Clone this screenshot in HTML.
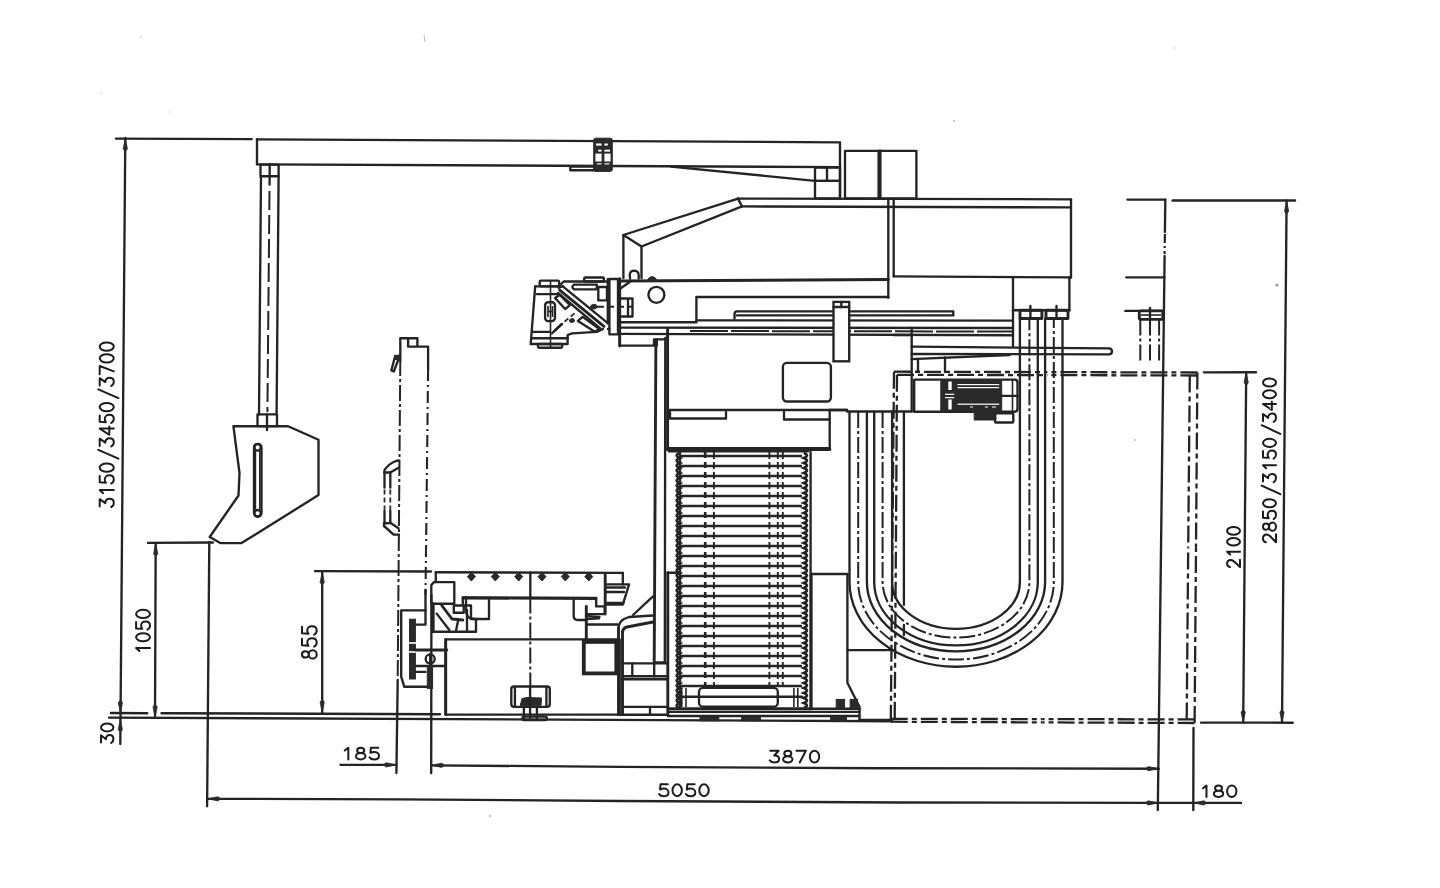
<!DOCTYPE html>
<html><head><meta charset="utf-8"><style>
html,body{margin:0;padding:0;background:#fff;}
svg{display:block;}
.s{stroke:#242424;stroke-width:2.35;fill:none;stroke-linecap:round;stroke-linejoin:round;}
.w{stroke:#242424;stroke-width:2.9;fill:none;stroke-linecap:round;stroke-linejoin:round;}
.h{stroke:#242424;stroke-width:1.6;fill:none;}
.dd{stroke:#242424;stroke-width:2;fill:none;stroke-dasharray:16 3 3 3;}
.d{stroke:#242424;stroke-width:1.9;fill:none;stroke-dasharray:7 3;}
.f{fill:#2a2a2a;stroke:#2a2a2a;stroke-width:1;}
.a{fill:#2a2a2a;stroke:#2a2a2a;stroke-width:0.8;stroke-linejoin:round;}
.t{font-family:"Liberation Sans",sans-serif;font-size:100px;fill:#1e1e1e;stroke:#1e1e1e;stroke-width:0.35px;vector-effect:non-scaling-stroke;}
.g{fill:none;stroke:#1c1c1c;stroke-width:2px;stroke-linecap:round;stroke-linejoin:round;}
.g path{vector-effect:non-scaling-stroke;}
.sw{stroke:#242424;stroke-width:2.35;fill:#fff;}
.w4{stroke:#242424;stroke-width:3.8;fill:none;}
.wh{stroke:#fff;stroke-width:1.6;}
.p{stroke:#262626;stroke-width:2.4;fill:none;}
.z{stroke:#222;stroke-width:2.7;fill:none;}
.dk{stroke:#262626;stroke-width:2.6;fill:none;stroke-dasharray:6 4;}
.d2{stroke:#242424;stroke-width:2;fill:none;stroke-dasharray:19 5;}
.d3{stroke:#242424;stroke-width:2.1;fill:none;stroke-dasharray:12 4 2 4;}
.d5{stroke:#242424;stroke-width:2.2;fill:none;stroke-dasharray:9 3 2 3;}
.d6{stroke:#242424;stroke-width:2;fill:none;stroke-dasharray:38 3;}
.en{stroke:#242424;stroke-width:2.3;fill:none;stroke-dasharray:17 4 5 4;}
.d4{stroke:#2a2a2a;stroke-width:1.8;fill:none;stroke-dasharray:5 3;}
</style></head><body>
<svg width="1440" height="888" viewBox="0 0 1440 888">
<rect width="1440" height="888" fill="#fff"/>
<line x1="116" y1="138.6" x2="251.7" y2="139.1" class="s"/>
<line x1="125.3" y1="138" x2="120.3" y2="744" class="s"/>
<polygon points="125.3,138.5 123.2,148.9 125.3,151.5 127.4,148.9" class="a"/>
<polygon points="120.4,713 118.3,702.6 120.4,700 122.5,702.6" class="a"/>
<polygon points="120.3,719.3 118.2,729.7 120.3,732.3 122.4,729.7" class="a"/>
<g transform="matrix(0,-0.11750,0.14100,0,99.70,507.00)" class="g"><path transform="translate(0,0) scale(0.875,1)" d="M5,0 L76,0 L38,40 C64,38 80,52 80,70 C80,88 64,100 40,100 C22,100 8,93 0,82"/><path transform="translate(100,0) scale(0.875,1)" d="M20,24 L50,0 L50,100"/><path transform="translate(200,0) scale(0.875,1)" d="M74,0 L12,0 L8,44 C16,39 28,36 40,36 C64,36 80,50 80,68 C80,88 64,100 40,100 C22,100 8,93 0,82"/><path transform="translate(300,0) scale(0.875,1)" d="M40,0 C62,0 80,22 80,50 C80,78 62,100 40,100 C18,100 0,78 0,50 C0,22 18,0 40,0 Z"/><path transform="translate(412,0) scale(1,1)" d="M0,133 L74,-10"/><path transform="translate(515,0) scale(0.875,1)" d="M5,0 L76,0 L38,40 C64,38 80,52 80,70 C80,88 64,100 40,100 C22,100 8,93 0,82"/><path transform="translate(615,0) scale(0.875,1)" d="M60,100 L60,0 L0,68 L80,68"/><path transform="translate(715,0) scale(0.875,1)" d="M74,0 L12,0 L8,44 C16,39 28,36 40,36 C64,36 80,50 80,68 C80,88 64,100 40,100 C22,100 8,93 0,82"/><path transform="translate(815,0) scale(0.875,1)" d="M40,0 C62,0 80,22 80,50 C80,78 62,100 40,100 C18,100 0,78 0,50 C0,22 18,0 40,0 Z"/><path transform="translate(927,0) scale(1,1)" d="M0,133 L74,-10"/><path transform="translate(1030,0) scale(0.875,1)" d="M5,0 L76,0 L38,40 C64,38 80,52 80,70 C80,88 64,100 40,100 C22,100 8,93 0,82"/><path transform="translate(1130,0) scale(0.875,1)" d="M0,0 L80,0 L28,100"/><path transform="translate(1230,0) scale(0.875,1)" d="M40,0 C62,0 80,22 80,50 C80,78 62,100 40,100 C18,100 0,78 0,50 C0,22 18,0 40,0 Z"/><path transform="translate(1330,0) scale(0.875,1)" d="M40,0 C62,0 80,22 80,50 C80,78 62,100 40,100 C18,100 0,78 0,50 C0,22 18,0 40,0 Z"/></g>
<g transform="matrix(0,-0.11529,0.12400,0,101.00,743.00)" class="g"><path transform="translate(0,0) scale(0.875,1)" d="M5,0 L76,0 L38,40 C64,38 80,52 80,70 C80,88 64,100 40,100 C22,100 8,93 0,82"/><path transform="translate(100,0) scale(0.875,1)" d="M40,0 C62,0 80,22 80,50 C80,78 62,100 40,100 C18,100 0,78 0,50 C0,22 18,0 40,0 Z"/></g>
<line x1="111" y1="713" x2="147.3" y2="713.2" class="s"/>
<line x1="161.5" y1="713.2" x2="440" y2="714.2" class="s"/>
<line x1="109" y1="717.6" x2="892" y2="721.2" class="s"/>
<line x1="148" y1="542.9" x2="213" y2="542.5" class="s"/>
<line x1="155.7" y1="543" x2="155" y2="717" class="s"/>
<polygon points="155.7,543.5 153.6,553.9 155.7,556.5 157.8,553.9" class="a"/>
<polygon points="155.1,717.2 153,706.8 155.1,704.2 157.2,706.8" class="a"/>
<line x1="209.3" y1="542" x2="207.1" y2="806.3" class="s"/>
<g transform="matrix(0,-0.11688,0.13900,0,136.10,653.05)" class="g"><path transform="translate(0,0) scale(0.875,1)" d="M20,24 L50,0 L50,100"/><path transform="translate(100,0) scale(0.875,1)" d="M40,0 C62,0 80,22 80,50 C80,78 62,100 40,100 C18,100 0,78 0,50 C0,22 18,0 40,0 Z"/><path transform="translate(200,0) scale(0.875,1)" d="M74,0 L12,0 L8,44 C16,39 28,36 40,36 C64,36 80,50 80,68 C80,88 64,100 40,100 C22,100 8,93 0,82"/><path transform="translate(300,0) scale(0.875,1)" d="M40,0 C62,0 80,22 80,50 C80,78 62,100 40,100 C18,100 0,78 0,50 C0,22 18,0 40,0 Z"/></g>
<line x1="315" y1="571.1" x2="431" y2="571.5" class="s"/>
<line x1="322.2" y1="571.5" x2="322.2" y2="712.5" class="s"/>
<polygon points="322.2,572 320.1,582.4 322.2,585 324.3,582.4" class="a"/>
<polygon points="322.2,712.5 320.1,702.1 322.2,699.5 324.3,702.1" class="a"/>
<g transform="matrix(0,-0.12000,0.14700,0,302.00,658.60)" class="g"><path transform="translate(0,0) scale(0.875,1)" d="M40,0 C58,0 70,10 70,23 C70,36 58,46 40,46 C22,46 10,36 10,23 C10,10 22,0 40,0 Z M40,46 C62,46 80,57 80,73 C80,89 62,100 40,100 C18,100 0,89 0,73 C0,57 18,46 40,46 Z"/><path transform="translate(100,0) scale(0.875,1)" d="M74,0 L12,0 L8,44 C16,39 28,36 40,36 C64,36 80,50 80,68 C80,88 64,100 40,100 C22,100 8,93 0,82"/><path transform="translate(200,0) scale(0.875,1)" d="M74,0 L12,0 L8,44 C16,39 28,36 40,36 C64,36 80,50 80,68 C80,88 64,100 40,100 C22,100 8,93 0,82"/></g>
<line x1="397.7" y1="680" x2="396.4" y2="773" class="s"/>
<line x1="431.4" y1="595" x2="431.2" y2="773" class="s"/>
<line x1="340.5" y1="764.8" x2="396.4" y2="764.9" class="s"/>
<polygon points="396.4,764.9 386,762.8 383.4,764.9 386,767" class="a"/>
<g transform="matrix(0.13564,0,0,0.11700,342.38,747.70)" class="g"><path transform="translate(0,0) scale(0.875,1)" d="M20,24 L50,0 L50,100"/><path transform="translate(100,0) scale(0.875,1)" d="M40,0 C58,0 70,10 70,23 C70,36 58,46 40,46 C22,46 10,36 10,23 C10,10 22,0 40,0 Z M40,46 C62,46 80,57 80,73 C80,89 62,100 40,100 C18,100 0,89 0,73 C0,57 18,46 40,46 Z"/><path transform="translate(200,0) scale(0.875,1)" d="M74,0 L12,0 L8,44 C16,39 28,36 40,36 C64,36 80,50 80,68 C80,88 64,100 40,100 C22,100 8,93 0,82"/></g>
<polyline points="431.4,765.3 620,766.9 880,768.2 1158.9,768.7" class="s"/>
<polygon points="431.4,765.3 441.8,763.2 444.4,765.3 441.8,767.4" class="a"/>
<polygon points="1158.6,768.7 1148.2,766.6 1145.6,768.7 1148.2,770.8" class="a"/>
<g transform="matrix(0.13365,0,0,0.11700,769.75,750.80)" class="g"><path transform="translate(0,0) scale(0.875,1)" d="M5,0 L76,0 L38,40 C64,38 80,52 80,70 C80,88 64,100 40,100 C22,100 8,93 0,82"/><path transform="translate(100,0) scale(0.875,1)" d="M40,0 C58,0 70,10 70,23 C70,36 58,46 40,46 C22,46 10,36 10,23 C10,10 22,0 40,0 Z M40,46 C62,46 80,57 80,73 C80,89 62,100 40,100 C18,100 0,89 0,73 C0,57 18,46 40,46 Z"/><path transform="translate(200,0) scale(0.875,1)" d="M0,0 L80,0 L28,100"/><path transform="translate(300,0) scale(0.875,1)" d="M40,0 C62,0 80,22 80,50 C80,78 62,100 40,100 C18,100 0,78 0,50 C0,22 18,0 40,0 Z"/></g>
<polyline points="207.4,798.8 400,799.3 620,801 900,802.5 1158.7,802.9" class="s"/>
<polygon points="207.6,798.8 218,796.7 220.6,798.8 218,800.9" class="a"/>
<polygon points="1158.5,802.9 1148.1,800.8 1145.5,802.9 1148.1,805" class="a"/>
<g transform="matrix(0.13405,0,0,0.11900,659.10,784.30)" class="g"><path transform="translate(0,0) scale(0.875,1)" d="M74,0 L12,0 L8,44 C16,39 28,36 40,36 C64,36 80,50 80,68 C80,88 64,100 40,100 C22,100 8,93 0,82"/><path transform="translate(100,0) scale(0.875,1)" d="M40,0 C62,0 80,22 80,50 C80,78 62,100 40,100 C18,100 0,78 0,50 C0,22 18,0 40,0 Z"/><path transform="translate(200,0) scale(0.875,1)" d="M74,0 L12,0 L8,44 C16,39 28,36 40,36 C64,36 80,50 80,68 C80,88 64,100 40,100 C22,100 8,93 0,82"/><path transform="translate(300,0) scale(0.875,1)" d="M40,0 C62,0 80,22 80,50 C80,78 62,100 40,100 C18,100 0,78 0,50 C0,22 18,0 40,0 Z"/></g>
<line x1="1193.5" y1="728" x2="1193.3" y2="810" class="s"/>
<line x1="1158.5" y1="802.8" x2="1241" y2="802.9" class="s"/>
<polygon points="1193.6,802.9 1204,800.8 1206.6,802.9 1204,805" class="a"/>
<g transform="matrix(0.13228,0,0,0.11300,1200.69,785.60)" class="g"><path transform="translate(0,0) scale(0.875,1)" d="M20,24 L50,0 L50,100"/><path transform="translate(100,0) scale(0.875,1)" d="M40,0 C58,0 70,10 70,23 C70,36 58,46 40,46 C22,46 10,36 10,23 C10,10 22,0 40,0 Z M40,46 C62,46 80,57 80,73 C80,89 62,100 40,100 C18,100 0,89 0,73 C0,57 18,46 40,46 Z"/><path transform="translate(200,0) scale(0.875,1)" d="M40,0 C62,0 80,22 80,50 C80,78 62,100 40,100 C18,100 0,78 0,50 C0,22 18,0 40,0 Z"/></g>
<line x1="1172.5" y1="200.5" x2="1295" y2="200.5" class="s"/>
<line x1="1286.6" y1="200.5" x2="1282" y2="722.5" class="s"/>
<polygon points="1286.6,201 1284.5,211.4 1286.6,214 1288.7,211.4" class="a"/>
<polygon points="1282,722.5 1279.9,712.1 1282,709.5 1284.1,712.1" class="a"/>
<line x1="1203.9" y1="372.3" x2="1256" y2="372.2" class="s"/>
<line x1="1246.2" y1="372" x2="1243.2" y2="722.5" class="s"/>
<polygon points="1246.2,372.3 1244.1,382.7 1246.2,385.3 1248.3,382.7" class="a"/>
<polygon points="1243.2,722.5 1241.1,712.1 1243.2,709.5 1245.3,712.1" class="a"/>
<line x1="1201" y1="722.6" x2="1292.7" y2="722.7" class="s"/>
<g transform="matrix(0,-0.11721,0.13000,0,1263.00,542.50)" class="g"><path transform="translate(0,0) scale(0.875,1)" d="M3,22 C6,8 20,0 40,0 C62,0 78,12 78,29 C78,46 62,56 42,70 L2,100 L80,100"/><path transform="translate(100,0) scale(0.875,1)" d="M40,0 C58,0 70,10 70,23 C70,36 58,46 40,46 C22,46 10,36 10,23 C10,10 22,0 40,0 Z M40,46 C62,46 80,57 80,73 C80,89 62,100 40,100 C18,100 0,89 0,73 C0,57 18,46 40,46 Z"/><path transform="translate(200,0) scale(0.875,1)" d="M74,0 L12,0 L8,44 C16,39 28,36 40,36 C64,36 80,50 80,68 C80,88 64,100 40,100 C22,100 8,93 0,82"/><path transform="translate(300,0) scale(0.875,1)" d="M40,0 C62,0 80,22 80,50 C80,78 62,100 40,100 C18,100 0,78 0,50 C0,22 18,0 40,0 Z"/><path transform="translate(412,0) scale(1,1)" d="M0,133 L74,-10"/><path transform="translate(515,0) scale(0.875,1)" d="M5,0 L76,0 L38,40 C64,38 80,52 80,70 C80,88 64,100 40,100 C22,100 8,93 0,82"/><path transform="translate(615,0) scale(0.875,1)" d="M20,24 L50,0 L50,100"/><path transform="translate(715,0) scale(0.875,1)" d="M74,0 L12,0 L8,44 C16,39 28,36 40,36 C64,36 80,50 80,68 C80,88 64,100 40,100 C22,100 8,93 0,82"/><path transform="translate(815,0) scale(0.875,1)" d="M40,0 C62,0 80,22 80,50 C80,78 62,100 40,100 C18,100 0,78 0,50 C0,22 18,0 40,0 Z"/><path transform="translate(927,0) scale(1,1)" d="M0,133 L74,-10"/><path transform="translate(1030,0) scale(0.875,1)" d="M5,0 L76,0 L38,40 C64,38 80,52 80,70 C80,88 64,100 40,100 C22,100 8,93 0,82"/><path transform="translate(1130,0) scale(0.875,1)" d="M60,100 L60,0 L0,68 L80,68"/><path transform="translate(1230,0) scale(0.875,1)" d="M40,0 C62,0 80,22 80,50 C80,78 62,100 40,100 C18,100 0,78 0,50 C0,22 18,0 40,0 Z"/><path transform="translate(1330,0) scale(0.875,1)" d="M40,0 C62,0 80,22 80,50 C80,78 62,100 40,100 C18,100 0,78 0,50 C0,22 18,0 40,0 Z"/></g>
<g transform="matrix(0,-0.10865,0.12900,0,1227.10,567.30)" class="g"><path transform="translate(0,0) scale(0.875,1)" d="M3,22 C6,8 20,0 40,0 C62,0 78,12 78,29 C78,46 62,56 42,70 L2,100 L80,100"/><path transform="translate(100,0) scale(0.875,1)" d="M20,24 L50,0 L50,100"/><path transform="translate(200,0) scale(0.875,1)" d="M40,0 C62,0 80,22 80,50 C80,78 62,100 40,100 C18,100 0,78 0,50 C0,22 18,0 40,0 Z"/><path transform="translate(300,0) scale(0.875,1)" d="M40,0 C62,0 80,22 80,50 C80,78 62,100 40,100 C18,100 0,78 0,50 C0,22 18,0 40,0 Z"/></g>
<polyline points="257,139.3 840,142.3 840,198.5" class="s"/>
<line x1="257" y1="139.3" x2="257" y2="164.2" class="s"/>
<polyline points="257,164.3 840,167.1" class="s"/>
<line x1="671" y1="166.6" x2="815" y2="180.8" class="s"/>
<rect x="815" y="167.5" width="25" height="13.3" class="s"/>
<line x1="827" y1="167.5" x2="827" y2="180.8" class="s"/>
<rect x="815" y="180.8" width="25" height="17.7" class="s"/>
<rect x="593.7" y="138.2" width="18.6" height="33.2" rx="2" class="f"/>
<rect x="596" y="143.5" width="5.6" height="2.1" fill="#fff"/>
<rect x="604.4" y="143.5" width="3.4" height="2.1" fill="#fff"/>
<rect x="598.2" y="149.7" width="3.4" height="1.9" fill="#fff"/>
<rect x="604.4" y="149.7" width="5.6" height="1.9" fill="#fff"/>
<rect x="595.4" y="153.6" width="6.2" height="7.9" fill="#fff"/>
<rect x="604.4" y="153.6" width="6.2" height="7.9" fill="#fff"/>
<rect x="597" y="163.3" width="4.6" height="1.1" fill="#fff"/>
<rect x="604.4" y="163.3" width="5.1" height="1.1" fill="#fff"/>
<path d="M593.7,166.6 L570.3,166.6 L570.3,170.2 L596.5,170.2" class="s"/>
<rect x="845" y="150.8" width="71.4" height="47.7" class="s"/>
<line x1="880.1" y1="151" x2="880.1" y2="198.5" class="w"/>
<line x1="878.6" y1="151" x2="878.6" y2="198.5" class="s"/>
<rect x="260.5" y="164.6" width="18.1" height="11.6" class="s"/>
<line x1="269.7" y1="164.6" x2="269.6" y2="184.5" class="s"/>
<line x1="261" y1="176.2" x2="259" y2="414.4" class="s"/>
<line x1="278.6" y1="176.2" x2="276.6" y2="414.4" class="s"/>
<line x1="269.5" y1="191" x2="267.4" y2="412" class="d2"/>
<rect x="257.5" y="414.4" width="19.5" height="11.8" class="s"/>
<line x1="267" y1="414.4" x2="267" y2="430" class="s"/>
<polygon points="233.4,426.2 288.1,426.2 318.5,439.8 318.5,495.1 241.5,543.1 220.3,543.1 209.7,537 238.5,495.5 239.5,473 233.4,426.2" class="s"/>
<rect x="254" y="443.8" width="7.5" height="72.9" rx="3.7" class="s"/>
<circle cx="257.6" cy="447.4" r="3.2" class="s"/>
<circle cx="257.6" cy="513.2" r="3.2" class="s"/>
<line x1="255.4" y1="451" x2="255.4" y2="509.5" class="h"/>
<line x1="259.8" y1="451" x2="259.8" y2="509.5" class="h"/>
<path d="M400.3,360 L400.3,338.2 L417.4,338.2 L417.4,346.6 M408.1,338.2 L408.1,346.6 L428.1,346.6 L428.1,369" class="s"/>
<line x1="400.3" y1="360" x2="397.7" y2="678" class="dd"/>
<line x1="428.1" y1="369" x2="425.5" y2="595" class="d3"/>
<path d="M391.3,370.5 L395.2,356 L399.8,355.8 L393.8,371.5 Z" class="s"/>
<path d="M395.2,356 L399.8,355.8 L399.6,359.5 L394.5,359.5 Z" class="f"/>
<path d="M384.5,472.5 L384.5,470 Q389,463.5 396,461 L399,460.5" class="s"/>
<path d="M384.5,472.5 L390.3,472.5 L399,467.5" class="s"/>
<line x1="384.5" y1="472.5" x2="384.5" y2="487.5" class="s"/>
<line x1="384.5" y1="489.5" x2="384.5" y2="510" class="d4"/>
<line x1="384.5" y1="511" x2="384.5" y2="523" class="s"/>
<line x1="390.3" y1="472.5" x2="390.3" y2="487.5" class="s"/>
<line x1="390.3" y1="489.5" x2="390.3" y2="510" class="d4"/>
<line x1="390.3" y1="511" x2="390.3" y2="523" class="s"/>
<path d="M384,523.5 L384,526 L393.6,534.6 L399,534.6" class="s"/>
<path d="M384,523.5 L390.3,522.8 L398.5,528.2" class="s"/>
<line x1="435.8" y1="572.2" x2="622.8" y2="572.9" class="s"/>
<line x1="435.8" y1="572.2" x2="435.8" y2="582.1" class="s"/>
<line x1="622.8" y1="572.9" x2="622.8" y2="584.4" class="s"/>
<path d="M431.3,585 L434,582.1 L454.3,582.1 L454.3,603.7 L431.3,603.7 Z" class="s"/>
<path d="M471.4,572.5 L475.4,576.6 L471.4,581 L467.4,576.6 Z" class="f"/>
<path d="M495.3,572.5 L499.3,576.6 L495.3,581 L491.3,576.6 Z" class="f"/>
<path d="M518.7,572.5 L522.7,576.6 L518.7,581 L514.7,576.6 Z" class="f"/>
<path d="M542,572.5 L546,576.6 L542,581 L538,576.6 Z" class="f"/>
<path d="M565.3,572.5 L569.3,576.6 L565.3,581 L561.3,576.6 Z" class="f"/>
<path d="M588.8,572.5 L592.8,576.6 L588.8,581 L584.8,576.6 Z" class="f"/>
<line x1="530.3" y1="572.6" x2="530.3" y2="597.5" class="s"/>
<path d="M462.8,605 L462.8,597.4 L596.2,597.9 L596.2,606.4 L604.8,606.4 L604.8,614.1 L587.7,614.1" class="s"/>
<line x1="463" y1="598" x2="596" y2="598.5" class="w"/>
<path d="M466,597.4 L466,610 Q466,619 474,619 L489,619 L489,600" class="s"/>
<path d="M573.7,600.1 L573.7,616 Q573.7,620 578,620 L586.3,620" class="s"/>
<line x1="586.3" y1="606.4" x2="586.3" y2="639.8" class="w"/>
<polyline points="587.7,616.2 599.4,617 599,618.4 587.7,619" class="s"/>
<line x1="586.3" y1="624.5" x2="617.8" y2="624.5" class="s"/>
<line x1="605.2" y1="573.6" x2="605.2" y2="614.1" class="w"/>
<polyline points="606.6,584.4 629.1,584.4 622.8,604.6 606.6,604.6" class="s"/>
<line x1="606.6" y1="587.5" x2="625" y2="587.5" class="s"/>
<line x1="606.6" y1="592" x2="624" y2="592" class="s"/>
<line x1="606.6" y1="602.8" x2="623.5" y2="602.8" class="s"/>
<rect x="453.8" y="605.5" width="9.9" height="7.2" class="s"/>
<path d="M463.7,605.5 L471,605.5 L471,619 L476,619 L476,631.7" class="s"/>
<line x1="467" y1="610" x2="467" y2="631.7" class="s"/>
<line x1="433.2" y1="603.7" x2="433.2" y2="631.7" class="w"/>
<line x1="433.2" y1="631.7" x2="475" y2="631.7" class="s"/>
<line x1="436.7" y1="613.6" x2="449.3" y2="630" class="s"/>
<polyline points="441.8,605.5 452,619 462.8,620" class="w"/>
<line x1="458" y1="621" x2="456" y2="631" class="s"/>
<rect x="445.7" y="639.4" width="174" height="75.2" class="s"/>
<line x1="445.7" y1="639.4" x2="445.7" y2="714.6" class="w"/>
<line x1="530.3" y1="597.5" x2="530.3" y2="690" class="dd"/>
<path d="M511.3,689 Q511.3,686.5 514,686.5 L547,686.5 Q549.8,686.5 549.8,689 L549.8,704 Q549.8,706.8 547,706.8 L514,706.8 Q511.3,706.8 511.3,704 Z" class="s"/>
<line x1="514.9" y1="688" x2="514.9" y2="705.5" class="s"/>
<line x1="546.4" y1="688" x2="546.4" y2="705.5" class="s"/>
<path d="M520.3,705.4 L522,698.5 L527,697.5 L541.6,698 L541,705.4 Z" class="f"/>
<line x1="530.1" y1="686.5" x2="530.1" y2="718.9" class="s"/>
<line x1="523.9" y1="706.8" x2="523.9" y2="718.9" class="s"/>
<line x1="536.9" y1="706.8" x2="536.9" y2="718.9" class="s"/>
<rect x="522.5" y="716.6" width="24.2" height="3.4" rx="1" class="s"/>
<rect x="583.8" y="641.9" width="32.5" height="31.5" class="w4"/>
<path d="M425.5,590 L425.5,624.6 L416,624.6" class="s"/>
<path d="M425.5,610.4 L401.2,610.4 L401.2,676.6 L404.2,686.7 L430.2,686.7" class="s"/>
<rect x="409.5" y="619.2" width="5.9" height="59.8" class="f"/>
<line x1="409" y1="643" x2="416" y2="643" class="wh"/>
<line x1="409" y1="652" x2="416" y2="652" class="wh"/>
<line x1="415.4" y1="650" x2="446.8" y2="650" class="w"/>
<line x1="415.4" y1="666" x2="444.4" y2="666" class="s"/>
<line x1="415.4" y1="671.9" x2="425.5" y2="671.9" class="s"/>
<circle cx="430.2" cy="658.9" r="4.5" class="s"/>
<line x1="430.2" y1="654" x2="430.2" y2="664" class="s"/>
<rect x="427.3" y="666" width="5.3" height="22.4" class="f"/>
<line x1="618.5" y1="628" x2="618.5" y2="714.5" class="w"/>
<line x1="622.5" y1="632" x2="622.5" y2="714.5" class="w"/>
<path d="M618.5,628 Q619,622 624,619 L629,617 L653,615.5" class="s"/>
<path d="M622.5,632 Q623,628 627,627 L653,622" class="w"/>
<line x1="633" y1="615" x2="653" y2="596.4" class="s"/>
<line x1="655.9" y1="340" x2="654.2" y2="662.4" class="w"/>
<line x1="665.3" y1="338" x2="664.8" y2="662.4" class="s"/>
<line x1="654.2" y1="662.4" x2="664.8" y2="662.4" class="s"/>
<line x1="667.6" y1="329" x2="667.6" y2="449.5" class="w"/>
<line x1="667.6" y1="410" x2="847" y2="410" class="s"/>
<line x1="847" y1="411.5" x2="911.7" y2="411.5" class="s"/>
<line x1="667.6" y1="449.5" x2="829.7" y2="449.5" class="w"/>
<line x1="829.7" y1="410" x2="829.7" y2="449.5" class="s"/>
<rect x="782.9" y="362.8" width="48" height="38.7" rx="4" class="s"/>
<polyline points="670,412 670,418.5 726,418.5 726,412" class="s"/>
<polyline points="784,412 784,419.5 829,419.5" class="s"/>
<line x1="679" y1="456" x2="802" y2="456" class="p"/>
<line x1="679" y1="466" x2="802" y2="466" class="p"/>
<line x1="679" y1="476" x2="802" y2="476" class="p"/>
<line x1="679" y1="486" x2="802" y2="486" class="p"/>
<line x1="679" y1="496" x2="802" y2="496" class="p"/>
<line x1="679" y1="506" x2="802" y2="506" class="p"/>
<line x1="679" y1="516" x2="802" y2="516" class="p"/>
<line x1="679" y1="526" x2="802" y2="526" class="p"/>
<line x1="679" y1="536" x2="802" y2="536" class="p"/>
<line x1="679" y1="546" x2="802" y2="546" class="p"/>
<line x1="679" y1="556" x2="802" y2="556" class="p"/>
<line x1="679" y1="566" x2="802" y2="566" class="p"/>
<line x1="679" y1="576" x2="802" y2="576" class="p"/>
<line x1="679" y1="586" x2="802" y2="586" class="p"/>
<line x1="679" y1="596" x2="802" y2="596" class="p"/>
<line x1="679" y1="606" x2="802" y2="606" class="p"/>
<line x1="679" y1="616" x2="802" y2="616" class="p"/>
<line x1="679" y1="626" x2="802" y2="626" class="p"/>
<line x1="679" y1="636" x2="802" y2="636" class="p"/>
<line x1="679" y1="646" x2="802" y2="646" class="p"/>
<line x1="679" y1="656" x2="802" y2="656" class="p"/>
<line x1="679" y1="666" x2="802" y2="666" class="p"/>
<line x1="679" y1="676" x2="802" y2="676" class="p"/>
<line x1="679" y1="686" x2="802" y2="686" class="p"/>
<line x1="667.6" y1="448.5" x2="829.7" y2="448.5" class="w"/>
<line x1="669" y1="451.3" x2="808" y2="451.3" class="s"/>
<path d="M679.8,453 Q673.6,455.5 679.8,458.0 Q673.6,460.5 679.8,463.0 Q673.6,465.5 679.8,468.0 Q673.6,470.5 679.8,473.0 Q673.6,475.5 679.8,478.0 Q673.6,480.5 679.8,483.0 Q673.6,485.5 679.8,488.0 Q673.6,490.5 679.8,493.0 Q673.6,495.5 679.8,498.0 Q673.6,500.5 679.8,503.0 Q673.6,505.5 679.8,508.0 Q673.6,510.5 679.8,513.0 Q673.6,515.5 679.8,518.0 Q673.6,520.5 679.8,523.0 Q673.6,525.5 679.8,528.0 Q673.6,530.5 679.8,533.0 Q673.6,535.5 679.8,538.0 Q673.6,540.5 679.8,543.0 Q673.6,545.5 679.8,548.0 Q673.6,550.5 679.8,553.0 Q673.6,555.5 679.8,558.0 Q673.6,560.5 679.8,563.0 Q673.6,565.5 679.8,568.0 Q673.6,570.5 679.8,573.0 Q673.6,575.5 679.8,578.0 Q673.6,580.5 679.8,583.0 Q673.6,585.5 679.8,588.0 Q673.6,590.5 679.8,593.0 Q673.6,595.5 679.8,598.0 Q673.6,600.5 679.8,603.0 Q673.6,605.5 679.8,608.0 Q673.6,610.5 679.8,613.0 Q673.6,615.5 679.8,618.0 Q673.6,620.5 679.8,623.0 Q673.6,625.5 679.8,628.0 Q673.6,630.5 679.8,633.0 Q673.6,635.5 679.8,638.0 Q673.6,640.5 679.8,643.0 Q673.6,645.5 679.8,648.0 Q673.6,650.5 679.8,653.0 Q673.6,655.5 679.8,658.0 Q673.6,660.5 679.8,663.0 Q673.6,665.5 679.8,668.0 Q673.6,670.5 679.8,673.0 Q673.6,675.5 679.8,678.0 Q673.6,680.5 679.8,683.0 Q673.6,685.5 679.8,688.0 Q673.6,690.5 679.8,693.0 Q673.6,695.5 679.8,698.0 Q673.6,700.5 679.8,703.0 Q673.6,705.5 679.8,708.0" class="z"/>
<path d="M803.8,453 Q810,455.5 803.8,458.0 Q810,460.5 803.8,463.0 Q810,465.5 803.8,468.0 Q810,470.5 803.8,473.0 Q810,475.5 803.8,478.0 Q810,480.5 803.8,483.0 Q810,485.5 803.8,488.0 Q810,490.5 803.8,493.0 Q810,495.5 803.8,498.0 Q810,500.5 803.8,503.0 Q810,505.5 803.8,508.0 Q810,510.5 803.8,513.0 Q810,515.5 803.8,518.0 Q810,520.5 803.8,523.0 Q810,525.5 803.8,528.0 Q810,530.5 803.8,533.0 Q810,535.5 803.8,538.0 Q810,540.5 803.8,543.0 Q810,545.5 803.8,548.0 Q810,550.5 803.8,553.0 Q810,555.5 803.8,558.0 Q810,560.5 803.8,563.0 Q810,565.5 803.8,568.0 Q810,570.5 803.8,573.0 Q810,575.5 803.8,578.0 Q810,580.5 803.8,583.0 Q810,585.5 803.8,588.0 Q810,590.5 803.8,593.0 Q810,595.5 803.8,598.0 Q810,600.5 803.8,603.0 Q810,605.5 803.8,608.0 Q810,610.5 803.8,613.0 Q810,615.5 803.8,618.0 Q810,620.5 803.8,623.0 Q810,625.5 803.8,628.0 Q810,630.5 803.8,633.0 Q810,635.5 803.8,638.0 Q810,640.5 803.8,643.0 Q810,645.5 803.8,648.0 Q810,650.5 803.8,653.0 Q810,655.5 803.8,658.0 Q810,660.5 803.8,663.0 Q810,665.5 803.8,668.0 Q810,670.5 803.8,673.0 Q810,675.5 803.8,678.0 Q810,680.5 803.8,683.0 Q810,685.5 803.8,688.0 Q810,690.5 803.8,693.0 Q810,695.5 803.8,698.0 Q810,700.5 803.8,703.0 Q810,705.5 803.8,708.0" class="z"/>
<line x1="680" y1="452" x2="680" y2="707" class="s"/>
<line x1="810.6" y1="452" x2="810.6" y2="709" class="s"/>
<line x1="705.2" y1="452" x2="705.2" y2="687" class="dk"/>
<line x1="713.9" y1="452" x2="713.9" y2="687" class="d"/>
<line x1="769.4" y1="452" x2="769.4" y2="687" class="d"/>
<line x1="777.8" y1="452" x2="777.8" y2="687" class="d"/>
<line x1="782.8" y1="452" x2="782.8" y2="687" class="d"/>
<line x1="681.7" y1="688" x2="681.7" y2="707" class="h"/>
<line x1="686" y1="688" x2="686" y2="707" class="h"/>
<line x1="793.9" y1="688" x2="793.9" y2="707" class="h"/>
<line x1="797.8" y1="688" x2="797.8" y2="707" class="h"/>
<line x1="677" y1="696.7" x2="802" y2="696.7" class="s"/>
<rect x="699" y="687.8" width="78.8" height="18.9" rx="4" class="s"/>
<line x1="668.8" y1="708.7" x2="810.4" y2="708.7" class="w"/>
<line x1="668.8" y1="711.9" x2="859.5" y2="711.9" class="s"/>
<line x1="668" y1="716" x2="859.5" y2="716" class="s"/>
<rect x="700" y="716.8" width="18.8" height="4" class="f"/>
<rect x="741.7" y="716.8" width="18.7" height="4" class="f"/>
<rect x="830.7" y="717" width="15.8" height="3.8" class="f"/>
<line x1="667.8" y1="572.7" x2="667.8" y2="714.7" class="w"/>
<line x1="667.8" y1="572.7" x2="676" y2="572.7" class="s"/>
<line x1="622.5" y1="663.4" x2="667.8" y2="663.4" class="s"/>
<line x1="622.5" y1="676.2" x2="667.8" y2="676.2" class="s"/>
<line x1="622.5" y1="679.2" x2="667.8" y2="679.2" class="s"/>
<line x1="622.5" y1="706.8" x2="667.8" y2="706.8" class="s"/>
<line x1="632.3" y1="663.4" x2="632.3" y2="676.2" class="s"/>
<line x1="654.2" y1="663.4" x2="654.2" y2="676.2" class="s"/>
<line x1="650" y1="706.8" x2="650" y2="714.7" class="s"/>
<line x1="618" y1="714.7" x2="668" y2="714.7" class="s"/>
<line x1="811.2" y1="574" x2="811.2" y2="708.7" class="w"/>
<line x1="811.2" y1="574" x2="847.4" y2="574" class="s"/>
<polyline points="847.4,574 847.4,682.7 859.5,706.8 859.5,719.9" class="s"/>
<line x1="847.4" y1="650.1" x2="893" y2="650.1" class="s"/>
<line x1="810.4" y1="708.7" x2="859.5" y2="708.7" class="s"/>
<rect x="836.2" y="699.4" width="8.4" height="9.3" class="f"/>
<rect x="850.2" y="699.4" width="7.4" height="9.3" class="f"/>
<line x1="859.5" y1="719.9" x2="892" y2="719.9" class="s"/>
<line x1="738" y1="198.6" x2="1071" y2="199.3" class="s"/>
<line x1="742" y1="206.4" x2="1071" y2="207.4" class="s"/>
<polyline points="623.4,278 623.4,235 738,198.6" class="s"/>
<polyline points="623.4,235 641.5,246.5 742,206.4" class="s"/>
<line x1="641.5" y1="246.5" x2="641.5" y2="278" class="s"/>
<line x1="738" y1="198.6" x2="742" y2="206.4" class="s"/>
<line x1="888.3" y1="198.8" x2="888.3" y2="297.7" class="s"/>
<line x1="893.7" y1="198.8" x2="893.7" y2="276.3" class="s"/>
<line x1="620" y1="281" x2="888.3" y2="279.5" class="w"/>
<line x1="893.7" y1="276.3" x2="1071" y2="277.4" class="s"/>
<line x1="1071" y1="199.3" x2="1071" y2="277.4" class="s"/>
<line x1="1069.4" y1="277.4" x2="1069.4" y2="310.2" class="s"/>
<line x1="1013" y1="277" x2="1013" y2="346.5" class="s"/>
<path d="M630,278.5 L629.8,274.5 Q630.2,270.6 634.2,270.6 Q638.5,270.8 638.7,275 L638.7,278.5" class="s"/>
<path d="M647.5,280.5 Q648.5,277 652,276.6 Q655.5,276.8 657,280.5 Z" class="f"/>
<rect x="1020" y="310.2" width="21.9" height="8.3" class="w"/>
<rect x="1046" y="310.2" width="22" height="8.3" class="w"/>
<line x1="1030.4" y1="306" x2="1030.4" y2="318.5" class="s"/>
<line x1="1056.5" y1="306" x2="1056.5" y2="318.5" class="s"/>
<line x1="1013" y1="310.2" x2="1069.4" y2="310.2" class="s"/>
<circle cx="656.4" cy="294.8" r="8" class="s"/>
<polyline points="696.4,320.4 696.4,297 888.3,297" class="s"/>
<line x1="620.7" y1="322.2" x2="696.4" y2="322.2" class="s"/>
<line x1="696.4" y1="320.4" x2="1013" y2="320.6" class="s"/>
<path d="M953.3,311.3 L737,311.3 Q734.5,311.3 734.5,314 L734.5,318.5 M737,315.4 L953.3,315.4 L953.3,311.3" class="s"/>
<line x1="620.7" y1="327.6" x2="1013" y2="328" class="s"/>
<line x1="620.7" y1="333.9" x2="1013" y2="335.2" class="s"/>
<line x1="690" y1="331" x2="1013" y2="331.5" class="d6"/>
<rect x="833.5" y="301.9" width="15.7" height="59.4" class="sw"/>
<line x1="833.5" y1="307" x2="849.2" y2="307" class="s"/>
<line x1="841.3" y1="301.9" x2="841.3" y2="307" class="s"/>
<polyline points="619.8,333.9 619.8,345.6 654,345.6 654,339.3 667.6,339.3 667.6,333.9" class="s"/>
<line x1="656.8" y1="339.3" x2="656.8" y2="345.6" class="s"/>
<line x1="893.7" y1="335" x2="911.7" y2="335" class="s"/>
<line x1="911.7" y1="328" x2="911.7" y2="411.3" class="s"/>
<path d="M911.7,346.7 L1109,348.4 Q1112,348.6 1112,351.3 Q1112,354.3 1109,354.3 L911.7,354" class="s"/>
<line x1="911.7" y1="359.2" x2="1009.6" y2="355" class="s"/>
<line x1="918" y1="359" x2="918" y2="372" class="s"/>
<line x1="945" y1="357.5" x2="945" y2="372" class="s"/>
<rect x="539.7" y="280.6" width="19.4" height="5.8" rx="1.2" class="s"/>
<line x1="535.2" y1="286.4" x2="558.6" y2="286.4" class="s"/>
<polyline points="535.2,286.4 530.7,344 567.6,344 567.6,335 572.1,333.3 596.8,331.9 603,329" class="s"/>
<rect x="537.9" y="344" width="24.3" height="3.7" rx="1.2" class="s"/>
<line x1="536.6" y1="294.1" x2="557.7" y2="294.1" class="s"/>
<line x1="532" y1="331.9" x2="550" y2="331.9" class="s"/>
<line x1="531.5" y1="338.2" x2="567.6" y2="338.2" class="s"/>
<line x1="550.5" y1="280.6" x2="550.5" y2="348.5" class="h"/>
<rect x="545.1" y="302.2" width="9.9" height="18.9" rx="3" class="s"/>
<line x1="548" y1="306" x2="548" y2="317" class="h"/>
<line x1="552.5" y1="306" x2="552.5" y2="317" class="h"/>
<line x1="548" y1="311.5" x2="552.5" y2="311.5" class="h"/>
<line x1="551.9" y1="333.3" x2="561.3" y2="324.3" class="s"/>
<line x1="562.5" y1="286.2" x2="607.8" y2="323.2" class="s"/>
<line x1="559.7" y1="290.1" x2="603.9" y2="326.4" class="w"/>
<line x1="558" y1="293" x2="600.5" y2="328.7" class="s"/>
<line x1="558.6" y1="287.8" x2="563" y2="286" class="s"/>
<polygon points="555,298 559.7,294.9 570,305.1 565.2,309" class="s"/>
<polygon points="577.9,320.9 582.6,316.9 599.1,328.7 595.2,331.9" class="s"/>
<polyline points="558.6,286.4 563.7,281.5 608.6,281.5" class="s"/>
<rect x="584.2" y="277.5" width="19.7" height="4" rx="1" class="s"/>
<path d="M574,284.6 L596.8,284.6 L596.8,289.3 L574,289.3 Q570.8,287 574,284.6 Z" class="s"/>
<rect x="598.3" y="287" width="8.7" height="13.4" class="s"/>
<path d="M590.5,306 Q592,303.8 595,304.3 Q597.6,305 597,307.5 Q595.5,309.5 592,309 Q590,308 590.5,306 Z" class="f"/>
<line x1="597" y1="306.7" x2="633" y2="306.7" class="d"/>
<path d="M569.2,320.5 Q570.5,318.3 573,318.6 Q574.9,319.4 574.5,321.2 Q573,322.8 570.5,322.4 Z" class="f"/>
<line x1="564.5" y1="321.6" x2="577" y2="311.4" class="d4"/>
<line x1="555" y1="330.3" x2="562.1" y2="324" class="s"/>
<line x1="607.8" y1="279" x2="607.8" y2="323.2" class="s"/>
<rect x="609.4" y="279" width="8.6" height="55.3" class="s"/>
<line x1="619.7" y1="278.6" x2="619.7" y2="346" class="w"/>
<line x1="608" y1="329" x2="609.4" y2="329" class="s"/>
<rect x="619.8" y="298.5" width="12.7" height="18" class="s"/>
<line x1="628" y1="300" x2="628" y2="316" class="s"/>
<line x1="619.8" y1="289" x2="631" y2="281" class="s"/>
<path d="M892.1,412 L892.1,582 A63.9,46.8 0 0 0 1019.9,582 L1019.9,318.5" class="s"/>
<path d="M882.6,412 L882.6,582 A73.4,55.6 0 0 0 1029.4,582 L1029.4,318.5" class="dd"/>
<path d="M874.2,412 L874.2,582 A81.8,63.4 0 0 0 1037.8,582 L1037.8,318.5" class="s"/>
<path d="M866.9,412 L866.9,582 A89.1,69.3 0 0 0 1045.1,582 L1045.1,318.5" class="s"/>
<path d="M858.2,412 L858.2,582 A97.8,77.6 0 0 0 1053.8,582 L1053.8,318.5" class="dd"/>
<path d="M849.5,412 L849.5,582 A106.5,84.7 0 0 0 1062.5,582 L1062.5,318.5" class="s"/>
<line x1="903.9" y1="412" x2="903.9" y2="604.7" class="s"/>
<line x1="903.9" y1="625" x2="903.9" y2="635" class="s"/>
<line x1="829.7" y1="410" x2="847" y2="410" class="s"/>
<line x1="894" y1="371.7" x2="1045.7" y2="372.1" class="en"/>
<line x1="1197.4" y1="372.5" x2="1045.7" y2="372.1" class="en"/>
<line x1="1197.4" y1="372.5" x2="1196" y2="547.8" class="en"/>
<line x1="1194.6" y1="723" x2="1196" y2="547.8" class="en"/>
<line x1="1194.6" y1="723" x2="1042.7" y2="722.4" class="en"/>
<line x1="890.8" y1="721.7" x2="1042.7" y2="722.4" class="en"/>
<line x1="890.8" y1="721.7" x2="892.4" y2="546.7" class="en"/>
<line x1="894" y1="371.7" x2="892.4" y2="546.7" class="en"/>
<line x1="897" y1="374.8" x2="1047.2" y2="375.1" class="en"/>
<line x1="1197.4" y1="375.5" x2="1047.2" y2="375.1" class="en"/>
<line x1="1189.8" y1="375.5" x2="1188.2" y2="547.5" class="en"/>
<line x1="1186.7" y1="719.4" x2="1188.2" y2="547.5" class="en"/>
<line x1="1194.6" y1="719.4" x2="1042.7" y2="719.1" class="en"/>
<line x1="890.8" y1="718.8" x2="1042.7" y2="719.1" class="en"/>
<line x1="894.7" y1="718.8" x2="895.9" y2="546.8" class="en"/>
<line x1="897" y1="374.8" x2="895.9" y2="546.8" class="en"/>
<path d="M914.2,379.6 L1014.5,379.6 Q1017.5,379.6 1017.5,382.6 L1017.5,408.7 Q1017.5,411.7 1014.5,411.7 L914.2,411.7 Z" class="s"/>
<rect x="940.8" y="379.6" width="60.9" height="32.1" class="f"/>
<rect x="957.5" y="384" width="41.7" height="1.2" fill="#fff"/>
<rect x="957.5" y="387" width="41.7" height="1.2" fill="#fff"/>
<rect x="957.5" y="403.6" width="41.7" height="1.2" fill="#fff"/>
<rect x="948.3" y="381.5" width="3.4" height="8.5" fill="#fff"/>
<rect x="948.3" y="399.5" width="3.4" height="10.0" fill="#fff"/>
<rect x="945" y="393.7" width="9.2" height="1.2" fill="#fff"/>
<rect x="945" y="397" width="9.2" height="1.2" fill="#fff"/>
<rect x="970" y="406.5" width="3.0" height="1.0" fill="#fff"/>
<rect x="985" y="406.5" width="3.0" height="1.0" fill="#fff"/>
<rect x="992" y="406.5" width="4.0" height="1.0" fill="#fff"/>
<line x1="1001.7" y1="395.8" x2="1017.5" y2="395.8" class="s"/>
<line x1="1012.5" y1="380" x2="1012.5" y2="411.5" class="h"/>
<rect x="974.2" y="411.7" width="21.6" height="8.3" class="f"/>
<rect x="995" y="413.3" width="18.3" height="9.2" rx="1" class="s"/>
<line x1="1127.5" y1="199.6" x2="1165.3" y2="199.6" class="s"/>
<line x1="1126.4" y1="277.3" x2="1164.3" y2="277.3" class="s"/>
<line x1="1125.3" y1="310.9" x2="1163.8" y2="310.9" class="s"/>
<line x1="1165.3" y1="199.6" x2="1164.9" y2="232" class="s"/>
<line x1="1164.9" y1="234" x2="1164.6" y2="254" class="d5"/>
<line x1="1164.6" y1="256" x2="1157.8" y2="810" class="s"/>
<rect x="1139.3" y="310.9" width="23.5" height="8.5" rx="1.5" class="w"/>
<line x1="1141" y1="315" x2="1161" y2="315" class="h"/>
<line x1="1150" y1="308" x2="1150" y2="319.4" class="s"/>
<line x1="1140.3" y1="319.4" x2="1140.3" y2="363.3" class="dd"/>
<line x1="1150" y1="319.4" x2="1150" y2="363.3" class="dd"/>
<line x1="1159.1" y1="319.4" x2="1159.1" y2="363.3" class="dd"/>
<circle cx="1277" cy="285" r="1.6" fill="#9a9a9a"/>
<circle cx="954" cy="121" r="1.0" fill="#b5b5b5"/>
<circle cx="141" cy="37" r="0.8" fill="#c0c0c0"/>
<circle cx="101" cy="93" r="0.7" fill="#c8c8c8"/>
<circle cx="170" cy="112" r="0.7" fill="#c8c8c8"/>
<circle cx="1175" cy="48" r="0.8" fill="#c8c8c8"/>
<circle cx="1135" cy="440" r="0.9" fill="#bdbdbd"/>
<circle cx="490" cy="816" r="1.1" fill="#b0b0b0"/>
<line x1="424" y1="35" x2="425" y2="42" stroke="#bbb" stroke-width="1"/>
</svg>
</body></html>
